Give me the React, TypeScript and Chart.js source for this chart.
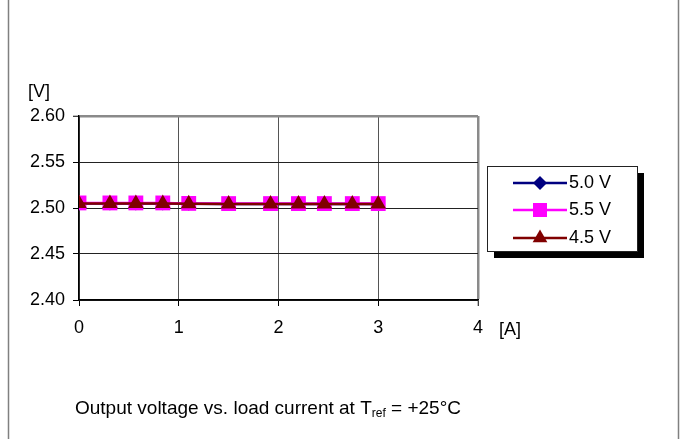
import React, { useEffect, useRef } from "react";
import { Chart, registerables } from "chart.js";

Chart.register(...registerables);

const currentA = [0, 0.31, 0.57, 0.84, 1.1, 1.5, 1.92, 2.2, 2.46, 2.74, 3.0];
const volt50 = [2.505, 2.505, 2.505, 2.505, 2.5045, 2.5043, 2.5043, 2.5043, 2.5043, 2.5043, 2.5043];
const volt55 = [2.5055, 2.5055, 2.5055, 2.5055, 2.505, 2.5048, 2.5048, 2.5048, 2.5048, 2.5048, 2.5048];
const volt45 = [2.505, 2.505, 2.505, 2.505, 2.5045, 2.5043, 2.5043, 2.5043, 2.5043, 2.5043, 2.5043];
const seriesNames = ["5.0 V", "5.5 V", "4.5 V"];
const seriesColors = ["#000080", "#FF00FF", "#800000"];
const seriesShapes = ["rectRot", "rect", "triangle"];
const yTickMin = 2.4;
const yTickMax = 2.6;
const yTickStep = 0.05;
const xTickMin = 0;
const xTickMax = 4;
const xTickStep = 1;
const yUnit = "[V]";
const xUnit = "[A]";
const captionMain = "Output voltage vs. load current at T";
const captionSub = "ref";
const captionTail = " = +25°C";

const FONT = "'Liberation Sans', Arial, sans-serif";
const FS = 18;
const CAP_FS = 19;

function drawMarker(ctx: CanvasRenderingContext2D, shape: string, x: number, y: number, color: string) {
  ctx.save();
  ctx.fillStyle = color;
  ctx.beginPath();
  if (shape === "rectRot") {
    const r = 7;
    ctx.moveTo(x, y - r);
    ctx.lineTo(x + r, y);
    ctx.lineTo(x, y + r);
    ctx.lineTo(x - r, y);
  } else if (shape === "rect") {
    const s = 7;
    ctx.rect(x - s, y - s, 2 * s, 2 * s);
  } else {
    const r = 8.5;
    ctx.moveTo(x, y - r);
    ctx.lineTo(x + r * 0.866, y + r * 0.5);
    ctx.lineTo(x - r * 0.866, y + r * 0.5);
  }
  ctx.closePath();
  ctx.fill();
  ctx.restore();
}

const decorPlugin = {
  id: "decor",
  afterDraw(chart: any) {
    const ctx: CanvasRenderingContext2D = chart.ctx;
    const area = chart.chartArea;
    ctx.save();
    ctx.strokeStyle = "#808080";
    ctx.lineWidth = 1.5;
    ctx.beginPath();
    ctx.moveTo(8.5, 0);
    ctx.lineTo(8.5, 439);
    ctx.moveTo(678.5, 0);
    ctx.lineTo(678.5, 439);
    ctx.stroke();

    ctx.fillStyle = "#000";
    ctx.font = `${FS}px ${FONT}`;
    ctx.textBaseline = "middle";
    ctx.textAlign = "left";
    ctx.fillText(yUnit, 28, 92);
    ctx.fillText(xUnit, area.right + 21, 330);

    ctx.font = `${CAP_FS}px ${FONT}`;
    ctx.fillText(captionMain, 75, 409);
    const w1 = ctx.measureText(captionMain).width;
    ctx.font = `${Math.round(CAP_FS * 0.65)}px ${FONT}`;
    ctx.fillText(captionSub, 75 + w1, 414);
    const w2 = ctx.measureText(captionSub).width;
    ctx.font = `${CAP_FS}px ${FONT}`;
    ctx.fillText(captionTail, 75 + w1 + w2, 409);

    const lx = 487, ly = 166, lw = 150, lh = 85;
    ctx.fillStyle = "#000";
    ctx.fillRect(lx + 7, ly + 7, lw, lh);
    ctx.fillStyle = "#fff";
    ctx.fillRect(lx, ly, lw, lh);
    ctx.strokeStyle = "#222";
    ctx.lineWidth = 1;
    ctx.strokeRect(lx + 0.5, ly + 0.5, lw, lh);
    const rows = [183, 210, 238];
    seriesNames.forEach((name, i) => {
      const y = rows[i];
      ctx.strokeStyle = seriesColors[i];
      ctx.lineWidth = 2.5;
      ctx.beginPath();
      ctx.moveTo(513, y);
      ctx.lineTo(567, y);
      ctx.stroke();
      drawMarker(ctx, seriesShapes[i], 540, y, seriesColors[i]);
      ctx.fillStyle = "#000";
      ctx.font = `${FS}px ${FONT}`;
      ctx.textBaseline = "middle";
      ctx.fillText(name, 569, y);
    });
    ctx.restore();
  },
};

const near = (a: number, b: number) => Math.abs(a - b) < 1e-6;

export default function App() {
  const ref = useRef<HTMLCanvasElement>(null);
  useEffect(() => {
    if (!ref.current) return;
    const toPts = (ys: number[]) => currentA.map((x, i) => ({ x, y: ys[i] }));
    const seriesValues = [volt50, volt55, volt45];
    const radii = [7, 10.5, 9];
    const orders = [2, 1, 0];
    const chart = new Chart(ref.current, {
      type: "line",
      data: {
        datasets: seriesNames.map((name, i) => ({
          label: name,
          data: toPts(seriesValues[i]),
          borderColor: seriesColors[i],
          backgroundColor: seriesColors[i],
          pointBackgroundColor: seriesColors[i],
          pointBorderColor: seriesColors[i],
          pointBorderWidth: 0,
          pointStyle: seriesShapes[i] as any,
          pointRadius: radii[i],
          borderWidth: 2.5,
          tension: 0,
          order: orders[i],
        })),
      },
      options: {
        animation: false,
        responsive: false,
        devicePixelRatio: 1,
        layout: { padding: { top: 116, right: 206, left: 0, bottom: 0 } },
        plugins: { legend: { display: false }, tooltip: { enabled: false }, title: { display: false } },
        scales: {
          x: {
            type: "linear",
            min: xTickMin,
            max: xTickMax,
            afterFit: (s: any) => { s.height = 139; },
            ticks: { stepSize: xTickStep, color: "#000", font: { family: FONT, size: FS }, padding: 11, maxRotation: 0 },
            grid: {
              color: (c: any) => (near(c.tick?.value, xTickMax) ? "#8a8a8a" : "#555"),
              lineWidth: (c: any) => (near(c.tick?.value, xTickMax) ? 2.5 : 1),
              tickColor: "#000",
              tickLength: 6,
              tickWidth: 1,
            },
            border: { color: "#000", width: 1.5 },
          },
          y: {
            type: "linear",
            min: yTickMin,
            max: yTickMax,
            afterFit: (s: any) => { s.width = 79; },
            ticks: {
              stepSize: yTickStep,
              color: "#000",
              font: { family: FONT, size: FS },
              padding: 8,
              callback: (v: any) => Number(v).toFixed(2),
            },
            grid: {
              color: (c: any) => (near(c.tick?.value, yTickMax) ? "#8a8a8a" : "#222"),
              lineWidth: (c: any) => (near(c.tick?.value, yTickMax) ? 2.5 : 1),
              tickColor: "#000",
              tickLength: 6,
              tickWidth: 1,
            },
            border: { color: "#000", width: 1.5 },
          },
        },
      },
      plugins: [decorPlugin],
    });
    return () => chart.destroy();
  }, []);
  return (
    <div style={{ position: "absolute", left: 0, top: 0, width: 684, height: 439, background: "#fff" }}>
      <canvas ref={ref} width={684} height={439} style={{ display: "block" }} />
    </div>
  );
}
